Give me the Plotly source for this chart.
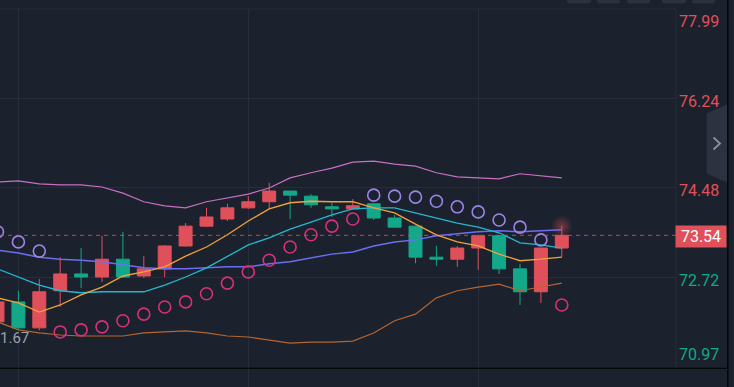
import plotly.graph_objects as go

# ---------------- data ----------------
idx = list(range(28))
open_ = [71.84, 72.23, 71.72, 72.45, 72.78, 72.72, 73.07, 72.74, 72.88, 73.33, 73.72, 73.86, 74.08, 74.20,
         74.41, 74.31, 74.10, 74.06, 74.16, 73.88, 73.72, 73.11, 73.07, 73.29, 73.53, 72.88, 72.43, 73.29]
high = [72.31, 72.45, 72.68, 73.11, 73.29, 73.53, 73.61, 73.13, 73.35, 73.78, 74.08, 74.16, 74.31, 74.57,
        74.41, 74.35, 74.18, 74.25, 74.16, 73.94, 73.72, 73.33, 73.33, 73.55, 73.53, 72.98, 73.29, 73.72]
low = [71.80, 71.70, 71.67, 72.13, 72.50, 72.62, 72.70, 72.70, 72.72, 73.31, 73.70, 73.82, 74.06, 74.06,
       73.86, 74.08, 73.90, 74.06, 73.84, 73.70, 72.99, 72.94, 72.92, 72.86, 72.78, 72.17, 72.21, 73.11]
close = [72.23, 71.72, 72.43, 72.78, 72.72, 73.07, 72.72, 72.88, 73.33, 73.72, 73.90, 74.08, 74.20, 74.41,
         74.33, 74.14, 74.06, 74.12, 73.88, 73.70, 73.11, 73.07, 73.29, 73.53, 72.88, 72.43, 73.29, 73.54]

boll_upper = [74.59, 74.61, 74.55, 74.53, 74.53, 74.49, 74.37, 74.20, 74.12, 74.08, 74.20, 74.27, 74.35, 74.47,
              74.67, 74.77, 74.86, 74.98, 75.00, 74.94, 74.90, 74.77, 74.69, 74.67, 74.65, 74.75, 74.71, 74.67]
boll_lower = [71.84, 71.68, 71.62, 71.58, 71.56, 71.56, 71.56, 71.62, 71.64, 71.66, 71.62, 71.56, 71.54, 71.48,
              71.42, 71.44, 71.44, 71.46, 71.62, 71.86, 71.99, 72.31, 72.45, 72.52, 72.58, 72.45, 72.52, 72.60]
ma_fast = [72.31, 72.21, 72.03, 72.17, 72.37, 72.52, 72.74, 72.82, 72.92, 73.13, 73.31, 73.55, 73.82, 74.06,
           74.18, 74.21, 74.20, 74.20, 74.08, 73.98, 73.76, 73.55, 73.41, 73.33, 73.17, 73.04, 73.07, 73.11]
ma_mid = [72.88, 72.72, 72.56, 72.45, 72.41, 72.43, 72.43, 72.43, 72.56, 72.72, 72.90, 73.13, 73.35, 73.49,
          73.66, 73.80, 73.94, 74.06, 74.08, 74.08, 73.98, 73.88, 73.78, 73.70, 73.59, 73.39, 73.35, 73.29]
ma_slow = [73.25, 73.19, 73.11, 73.07, 73.05, 73.02, 72.96, 72.90, 72.88, 72.88, 72.90, 72.92, 72.92, 72.98,
           73.02, 73.09, 73.17, 73.21, 73.33, 73.41, 73.45, 73.53, 73.57, 73.61, 73.63, 73.61, 73.63, 73.65]
sar = [73.61, 73.41, 73.23, 71.64, 71.68, 71.74, 71.86, 71.99, 72.13, 72.23, 72.39, 72.60, 72.82, 73.05,
       73.31, 73.55, 73.72, 73.86, 74.33, 74.31, 74.29, 74.21, 74.10, 74.00, 73.84, 73.70, 73.45, 72.17]

tick_values = [77.99, 76.24, 74.48, 72.72, 70.97]
tick_labels = ["77.99", "76.24", "74.48", "72.72", "70.97"]
x_grid = [1, 12, 23]
low_label = "1.67"

# ---------------- styles ----------------
BG = "#1b212d"
GRID = "#262e3b"
RED = "#e0505b"
GREEN = "#13a88a"
FONT = "Roboto"

W, H = 734, 387
ML, MR, MT, MB = 0, 58, 9, 0
PW, PH = W - ML - MR, H - MT - MB


def px(x):
    return (x - ML) / PW


def py(y):
    return (H - MB - y) / PH


price_now = close[-1]
sar_above_x = [i for i, s, h in zip(idx, sar, high) if s > h]
sar_above_y = [s for s, h in zip(sar, high) if s > h]
sar_below_x = [i for i, s, h in zip(idx, sar, high) if s <= h]
sar_below_y = [s for s, h in zip(sar, high) if s <= h]

fig = go.Figure()

fig.add_trace(go.Scatter(x=idx, y=boll_upper, mode="lines", line=dict(color="#c86fc4", width=1.2), hoverinfo="skip"))
fig.add_trace(go.Scatter(x=idx, y=boll_lower, mode="lines", line=dict(color="#b5652f", width=1.2), hoverinfo="skip"))
fig.add_trace(go.Scatter(x=idx, y=ma_slow, mode="lines", line=dict(color="#6a6ef2", width=1.5), hoverinfo="skip"))
fig.add_trace(go.Scatter(x=idx, y=ma_mid, mode="lines", line=dict(color="#22b8d2", width=1.3), hoverinfo="skip"))
fig.add_trace(go.Scatter(x=idx, y=ma_fast, mode="lines", line=dict(color="#f2a23a", width=1.3), hoverinfo="skip"))

# soft glow on the last candle (radial: gradient.color is the centre colour)
fig.add_trace(go.Scatter(
    x=[idx[-1]], y=[high[-1]], mode="markers", hoverinfo="skip",
    marker=dict(size=22, color="rgba(224,80,91,0)",
                gradient=dict(type="radial", color="rgba(224,80,91,0.45)"), line=dict(width=0)),
))

fig.add_trace(go.Candlestick(
    x=idx, open=open_, high=high, low=low, close=close,
    increasing=dict(line=dict(color=RED, width=1), fillcolor=RED),
    decreasing=dict(line=dict(color=GREEN, width=1), fillcolor=GREEN),
    whiskerwidth=0, hoverinfo="skip",
))

fig.add_trace(go.Scatter(x=sar_above_x, y=sar_above_y, mode="markers", hoverinfo="skip",
                         marker=dict(symbol="circle-open", size=12, color="#9d84e8", line=dict(width=1.6))))
fig.add_trace(go.Scatter(x=sar_below_x, y=sar_below_y, mode="markers", hoverinfo="skip",
                         marker=dict(symbol="circle-open", size=12, color="#d8307d", line=dict(width=1.6))))

# y range: top tick at plot top, bottom tick 21px above image bottom
pix_per_unit = 357 / (tick_values[0] - tick_values[-1])
y_bottom = tick_values[-1] - (H - 366) / pix_per_unit
x_left = (0 + 2.5) / 20.9
x_right = (PW + 2.5) / 20.9

shapes = []
# current price dashed line
shapes.append(dict(type="line", xref="paper", yref="y", x0=0, x1=1, y0=price_now, y1=price_now,
                   line=dict(color="rgba(224,80,91,0.85)", width=1, dash="4px,4px"), layer="above"))
# borders
shapes.append(dict(type="line", xref="paper", yref="paper", x0=0, x1=1, y0=1, y1=1,
                   line=dict(color=GRID, width=1)))
shapes.append(dict(type="line", xref="paper", yref="paper", x0=1, x1=1, y0=py(368), y1=1,
                   line=dict(color=GRID, width=1)))
shapes.append(dict(type="line", xref="paper", yref="paper", x0=0, x1=px(727.5), y0=py(368.3), y1=py(368.3),
                   line=dict(color="#05070a", width=1.2)))
shapes.append(dict(type="line", xref="paper", yref="paper", x0=px(727.8), x1=px(727.8), y0=py(H), y1=py(-5),
                   line=dict(color="#05070a", width=1.5)))
# top tabs
for a, b in [(567, 591), (597, 620), (627, 650), (662, 686), (692, 715)]:
    shapes.append(dict(type="path", xref="paper", yref="paper",
                       path=f"M {px(a)},{py(-6)} L {px(b)},{py(-6)} L {px(b)},{py(1)} "
                            f"Q {px(b)},{py(3.5)} {px(b-3)},{py(3.5)} L {px(a+3)},{py(3.5)} "
                            f"Q {px(a)},{py(3.5)} {px(a)},{py(1)} Z",
                       fillcolor="#2b313e", line=dict(width=0)))
# collapse button
shapes.append(dict(type="path", xref="paper", yref="paper",
                   path=f"M {px(706.7)},{py(113.5)} L {px(727)},{py(104.5)} L {px(727)},{py(182.5)} "
                        f"L {px(706.7)},{py(173.5)} Z",
                   fillcolor="#2c323f", line=dict(width=0)))
shapes.append(dict(type="path", xref="paper", yref="paper",
                   path=f"M {px(713.5)},{py(137.5)} L {px(720)},{py(143.5)} L {px(713.5)},{py(149.5)}",
                   line=dict(color="#8a909c", width=1.8)))

annotations = []
for v, t in zip(tick_values, tick_labels):
    col = RED if v > price_now else GREEN
    if v == tick_values[0]:
        ya, ys = "top", -1
    elif v == tick_values[-1]:
        ya, ys = "bottom", 0
    else:
        ya, ys = "middle", -3
    annotations.append(dict(x=1, xref="paper", y=v, yref="y", text=t, showarrow=False,
                            xanchor="right", xshift=45, yanchor=ya, yshift=ys,
                            font=dict(family=FONT, size=16, color=col)))
annotations.append(dict(x=1, xref="paper", y=price_now, yref="y", text=f"{price_now:.2f}", showarrow=False,
                        xanchor="left", xshift=-1, yanchor="middle", yshift=-1,
                        width=50, height=21, borderpad=0, bgcolor=RED, align="center",
                        font=dict(family=FONT, size=16, color="#ffffff")))
annotations.append(dict(x=0, xref="paper", y=py(337.5), yref="paper", text=low_label, showarrow=False,
                        xanchor="left", xshift=-2, yanchor="middle",
                        font=dict(family=FONT, size=15, color="#9ba1ab")))

fig.update_layout(
    width=W, height=H,
    margin=dict(l=ML, r=MR, t=MT, b=MB),
    paper_bgcolor=BG, plot_bgcolor=BG,
    showlegend=False,
    boxgap=0.38, boxgroupgap=0,
    shapes=shapes, annotations=annotations,
    xaxis=dict(range=[x_left, x_right], showticklabels=False, tickvals=x_grid, showgrid=True,
               gridcolor=GRID, gridwidth=1, zeroline=False, showline=False, ticks="",
               rangeslider=dict(visible=False), fixedrange=True),
    yaxis=dict(range=[y_bottom, tick_values[0]], showticklabels=False, tickvals=tick_values[1:-1],
               showgrid=True, gridcolor=GRID, gridwidth=1, zeroline=False, showline=False, ticks="",
               fixedrange=True),
    hovermode=False,
)

fig.write_html("out.html", config=dict(displayModeBar=False),
               post_script="document.body.style.margin='0';document.body.style.overflow='hidden';"
                           "document.body.style.background='" + BG + "';")
